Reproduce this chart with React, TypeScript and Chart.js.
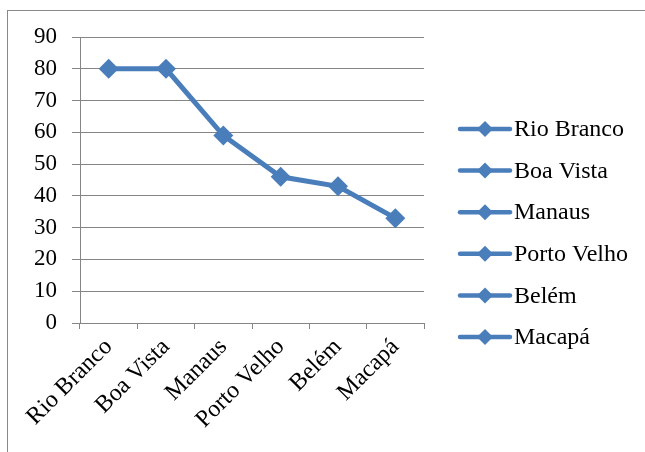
import React, { useEffect, useRef } from "react";
import { Chart, registerables } from "chart.js";

Chart.register(...registerables);

const categories = ["Rio Branco", "Boa Vista", "Manaus", "Porto Velho", "Belém", "Macapá"];
const values = [80, 80, 59, 46, 43, 33];
const yMin = 0;
const yMax = 90;
const yStep = 10;

const LINE_COLOR = "#4A7EBB";
const GRID_COLOR = "#868686";
const FONT = '"Liberation Serif", "Times New Roman", Times, "DejaVu Serif", serif';

const borderPlugin = {
  id: "outerBorder",
  beforeDraw(chart: any) {
    const ctx = chart.ctx;
    ctx.save();
    ctx.strokeStyle = "#898989";
    ctx.lineWidth = 1;
    ctx.strokeRect(7.5, 10.5, chart.width + 20, chart.height + 20);
    ctx.restore();
  },
};

const legendPlugin = {
  id: "categoryLegend",
  afterDraw(chart: any) {
    const ctx = chart.ctx;
    const labels: string[] = chart.data.labels;
    const rowGap = 41.6;
    const startY = 129;
    const lineX0 = 460;
    const lineX1 = 510;
    const cx = 485;
    ctx.save();
    labels.forEach((label, i) => {
      const y = startY + i * rowGap;
      ctx.strokeStyle = LINE_COLOR;
      ctx.lineWidth = 4.5;
      ctx.lineCap = "round";
      ctx.beginPath();
      ctx.moveTo(lineX0, y);
      ctx.lineTo(lineX1, y);
      ctx.stroke();
      ctx.fillStyle = LINE_COLOR;
      const r = 8;
      ctx.beginPath();
      ctx.moveTo(cx, y - r);
      ctx.lineTo(cx + r, y);
      ctx.lineTo(cx, y + r);
      ctx.lineTo(cx - r, y);
      ctx.closePath();
      ctx.fill();
      ctx.fillStyle = "#000";
      ctx.font = `24px ${FONT}`;
      ctx.textAlign = "left";
      ctx.textBaseline = "middle";
      ctx.fillText(label, 514, y + 1);
    });
    ctx.restore();
  },
};

export default function App() {
  const ref = useRef<HTMLCanvasElement | null>(null);

  useEffect(() => {
    let chart: any = null;
    let cancelled = false;
    const build = () => {
      if (cancelled || !ref.current) return;
      chart = new Chart(ref.current, {
        type: "line",
        data: {
          labels: categories,
          datasets: [
            {
              label: "Valores",
              data: values,
              borderColor: LINE_COLOR,
              backgroundColor: LINE_COLOR,
              borderWidth: 5,
              pointStyle: "rectRot",
              pointRadius: 10,
              pointHoverRadius: 10,
              pointBorderWidth: 0,
              tension: 0,
            },
          ],
        },
        options: {
          animation: false,
          responsive: false,
          layout: { padding: { left: 0, top: 37, right: 645 - 424, bottom: 0 } },
          plugins: {
            legend: { display: false },
            tooltip: { enabled: false },
          },
          scales: {
            x: {
              offset: true,
              grid: {
                offset: true,
                drawOnChartArea: false,
                drawTicks: true,
                tickLength: 6,
                color: GRID_COLOR,
              },
              border: { color: GRID_COLOR, width: 1 },
              ticks: {
                color: "#000",
                font: { family: FONT, size: 24 },
                minRotation: 45,
                maxRotation: 45,
                autoSkip: false,
                padding: 4,
              },
              afterFit(scale: any) {
                scale.height = 452 - 323;
              },
            },
            y: {
              min: yMin,
              max: yMax,
              grid: { color: GRID_COLOR, tickLength: 8 },
              border: { color: GRID_COLOR, width: 1 },
              ticks: {
                stepSize: yStep,
                color: "#000",
                font: { family: FONT, size: 23 },
                padding: 15,
              },
              afterFit(scale: any) {
                scale.width = 80;
              },
            },
          },
        },
        plugins: [borderPlugin, legendPlugin],
      });
    };
    const fonts: any = (document as any).fonts;
    if (fonts && fonts.load) {
      Promise.all([
        fonts.load('24px "Liberation Serif"'),
        fonts.load('24px "DejaVu Serif"'),
      ])
        .catch(() => null)
        .then(() => build());
    } else {
      build();
    }
    return () => {
      cancelled = true;
      if (chart) chart.destroy();
    };
  }, []);

  return (
    <div style={{ position: "absolute", left: 0, top: 0, width: 645, height: 452, background: "#fff" }}>
      <span style={{ position: "absolute", left: -9999, fontFamily: FONT }}>Rio Branco 0123456789</span>
      <canvas ref={ref} width={645} height={452} style={{ display: "block" }} />
    </div>
  );
}
